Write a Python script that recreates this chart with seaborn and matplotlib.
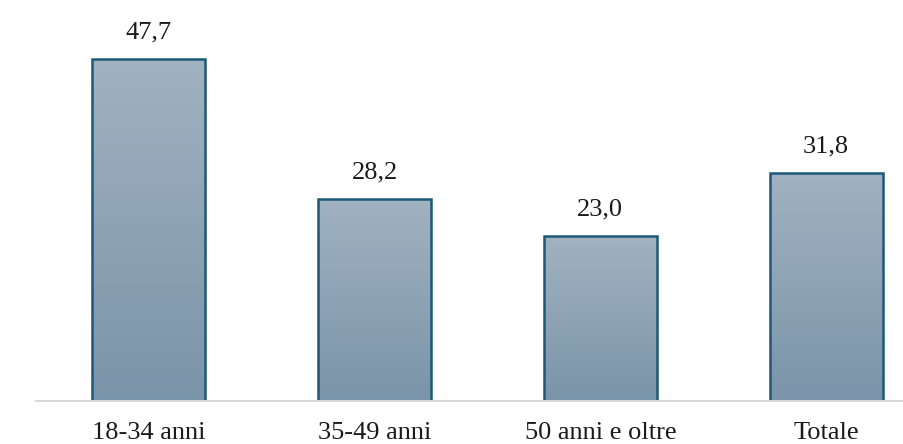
import numpy as np
import pandas as pd
import matplotlib
matplotlib.use("Agg")
import matplotlib.pyplot as plt
import seaborn as sns

# data
categorie = ["18-34 anni", "35-49 anni", "50 anni e oltre", "Totale"]
valori = [47.7, 28.2, 23.0, 31.8]

df = pd.DataFrame({"Categoria": categorie, "Valore": valori})

sns.set_theme(style="white")
plt.rcParams["font.family"] = ["Liberation Serif", "DejaVu Serif"]

fig = plt.figure(figsize=(9.04, 4.44), dpi=100)
ax = fig.add_axes([36 / 904, 43 / 444, 1 - 36 / 904, 401 / 444])

sns.barplot(data=df, x="Categoria", y="Valore", ax=ax, width=0.5,
            color="#8fa3b5", edgecolor="#1d5878", linewidth=1.8)

# vertical gradient fill inside each bar
grad = np.linspace(0, 1, 256).reshape(-1, 1)
cmap = matplotlib.colors.LinearSegmentedColormap.from_list(
    "g", ["#7a94a9", "#a1b2c1"])
for p in ax.patches:
    x0, y0 = p.get_x(), p.get_y()
    w, h = p.get_width(), p.get_height()
    p.set_facecolor("none")
    im = ax.imshow(grad, cmap=cmap, aspect="auto", origin="lower",
                   extent=[x0, x0 + w, y0, y0 + h], zorder=p.get_zorder() - 0.1)
    im.set_clip_path(p)

ax.set_xlim(-0.5, 3.345)
ax.set_ylim(0, 55.9)

for i, v in enumerate(valori):
    ax.text(i, v + 3.7, f"{v:.1f}".replace(".", ","), ha="center", va="center",
            fontsize=19, color="#1a1a1a")

ax.set_xlabel("")
ax.set_ylabel("")
ax.set_yticks([])
ax.tick_params(axis="x", length=0, pad=15, labelsize=19, labelcolor="#1a1a1a")
for s in ["top", "right", "left"]:
    ax.spines[s].set_visible(False)
ax.spines["bottom"].set_color("#d9d9d9")
ax.spines["bottom"].set_linewidth(1.5)

fig.savefig("out.png", dpi=100)
